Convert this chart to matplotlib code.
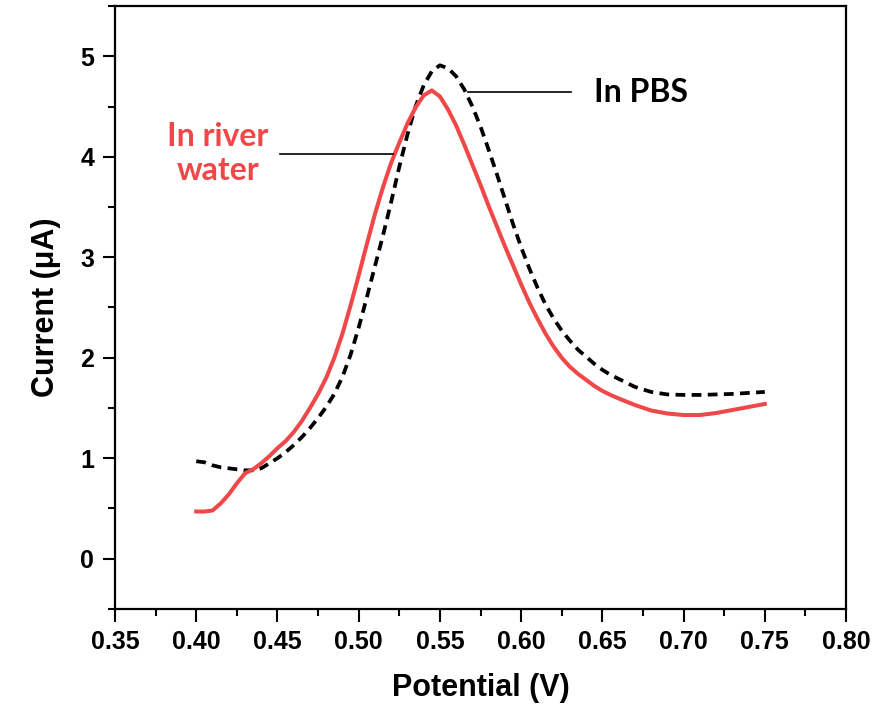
import matplotlib
matplotlib.use('Agg')
import matplotlib.pyplot as plt
from matplotlib.ticker import MultipleLocator, FormatStrFormatter

# potential (V) and current (uA)
v_river = [0.400, 0.405, 0.410, 0.415, 0.420, 0.425, 0.430, 0.435, 0.440, 0.445,
           0.450, 0.455, 0.460, 0.465, 0.470, 0.475, 0.480, 0.485, 0.490, 0.495,
           0.500, 0.505, 0.510, 0.515, 0.520, 0.525, 0.530, 0.535, 0.540, 0.545,
           0.550, 0.555, 0.560, 0.565, 0.570, 0.575, 0.580, 0.585, 0.590, 0.595,
           0.600, 0.605, 0.610, 0.615, 0.620, 0.625, 0.630, 0.635, 0.640, 0.645,
           0.650, 0.655, 0.660, 0.670, 0.680, 0.690, 0.700, 0.710, 0.720, 0.730,
           0.740, 0.750]
i_river = [0.47, 0.47, 0.48, 0.55, 0.64, 0.75, 0.85, 0.89, 0.95, 1.02,
           1.10, 1.17, 1.26, 1.37, 1.50, 1.64, 1.80, 2.00, 2.24, 2.52,
           2.82, 3.13, 3.43, 3.70, 3.94, 4.14, 4.33, 4.49, 4.61, 4.66,
           4.60, 4.47, 4.31, 4.12, 3.92, 3.72, 3.51, 3.31, 3.11, 2.92,
           2.73, 2.55, 2.39, 2.24, 2.11, 2.00, 1.91, 1.84, 1.78, 1.72,
           1.67, 1.63, 1.595, 1.53, 1.475, 1.445, 1.43, 1.43, 1.45, 1.48,
           1.51, 1.54]

v_pbs = [0.400, 0.405, 0.410, 0.415, 0.420, 0.425, 0.430, 0.435, 0.440, 0.445,
         0.450, 0.455, 0.460, 0.465, 0.470, 0.475, 0.480, 0.485, 0.490, 0.495,
         0.500, 0.505, 0.510, 0.515, 0.520, 0.525, 0.530, 0.535, 0.540, 0.545,
         0.550, 0.555, 0.560, 0.565, 0.570, 0.575, 0.580, 0.585, 0.590, 0.595,
         0.600, 0.605, 0.610, 0.615, 0.620, 0.625, 0.630, 0.635, 0.640, 0.645,
         0.650, 0.655, 0.660, 0.670, 0.680, 0.690, 0.700, 0.710, 0.720, 0.730,
         0.740, 0.750]
i_pbs = [0.97, 0.96, 0.93, 0.91, 0.90, 0.89, 0.88, 0.88, 0.90, 0.95,
         1.00, 1.06, 1.13, 1.21, 1.30, 1.40, 1.51, 1.64, 1.81, 2.03,
         2.30, 2.60, 2.91, 3.22, 3.55, 3.90, 4.22, 4.50, 4.71, 4.85,
         4.91, 4.88, 4.80, 4.67, 4.50, 4.30, 4.07, 3.83, 3.58, 3.33,
         3.10, 2.89, 2.70, 2.53, 2.39, 2.27, 2.17, 2.08, 2.01, 1.94,
         1.88, 1.83, 1.79, 1.71, 1.66, 1.635, 1.63, 1.63, 1.635, 1.64,
         1.65, 1.66]

matplotlib.rcParams['font.family'] = ['Liberation Sans', 'DejaVu Sans']
matplotlib.rcParams['font.weight'] = 'bold'

red = '#f04848'

fig = plt.figure(figsize=(8.74, 7.06), dpi=100)
ax = fig.add_axes([0.1316, 0.1374, 0.8364, 0.8541])

ax.plot(v_pbs, i_pbs, color='k', lw=2.7, linestyle=(0, (2.6, 1.7)))
ax.plot(v_river, i_river, color=red, lw=2.9)

ax.set_xlim(0.35, 0.80)
ax.set_ylim(-0.5, 5.5)
ax.xaxis.set_major_locator(MultipleLocator(0.05))
ax.xaxis.set_minor_locator(MultipleLocator(0.025))
ax.xaxis.set_major_formatter(FormatStrFormatter('%.2f'))
ax.yaxis.set_major_locator(MultipleLocator(1))
ax.yaxis.set_minor_locator(MultipleLocator(0.5))

ax.tick_params(which='major', direction='out', length=9, width=1.5, labelsize=18, pad=6)
ax.tick_params(which='minor', direction='out', length=5, width=1.5)
for lab in ax.get_xticklabels() + ax.get_yticklabels():
    lab.set_fontweight('bold')
for s in ax.spines.values():
    s.set_linewidth(1.6)

ax.set_xlabel('Potential (V)', fontsize=22, fontweight='bold', labelpad=14)
ax.set_ylabel('Current (\u03bcA)', fontsize=22, fontweight='bold', labelpad=14)

# annotations
ax.plot([0.567, 0.631], [4.64, 4.64], color='k', lw=1.2)
ax.text(0.645, 4.64, 'In PBS', fontsize=23, fontweight='bold', family=['Lato', 'DejaVu Sans'],
        ha='left', va='center', color='k')
ax.plot([0.4517, 0.5214], [4.03, 4.03], color='k', lw=1.2)
ax.text(0.4135, 4.03, 'In river\nwater', fontsize=23, fontweight='bold', family=['Lato', 'DejaVu Sans'],
        ha='center', va='center', color=red, linespacing=1.2)

fig.savefig('out.png', dpi=100)
